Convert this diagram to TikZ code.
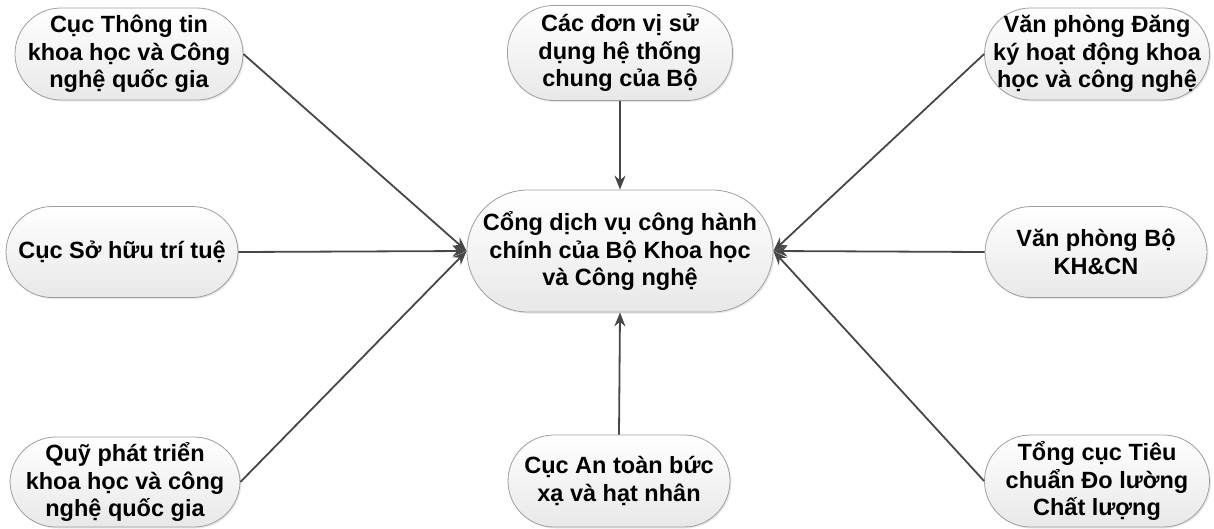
\documentclass[tikz,border=0pt]{standalone}
\usepackage{fontspec}
\setmainfont{Liberation Sans}
\usetikzlibrary{arrows.meta,shadows}
\begin{document}
\begin{tikzpicture}[x=1pt,y=-1pt,
  box/.style={rectangle, rounded corners=46pt, draw=black!38, line width=0.8pt,
    top color=white, bottom color=black!9,
    drop shadow={opacity=0.18,shadow xshift=1.5pt,shadow yshift=-1.5pt},
    align=center, inner sep=0pt, text=black,
    font=\fontsize{23.5}{27.5}\selectfont\bfseries},
  arr/.style={draw=black!72, line width=1.8pt, -{Stealth[length=14pt,width=11pt]}}]
\useasboundingbox (0,0) rectangle (1214,528);
\node[box, minimum width=228pt, minimum height=92pt] (tl) at (129,54)
  {Cục Thông tin\\khoa học và Công\\nghệ quốc gia};
\node[box, minimum width=225pt, minimum height=95pt] (tc) at (620,53)
  {Các đơn vị sử\\dụng hệ thống\\chung của Bộ};
\node[box, minimum width=225pt, minimum height=92pt] (tr) at (1097,54)
  {Văn phòng Đăng\\ký hoạt động khoa\\học và công nghệ};
\node[box, minimum width=232pt, minimum height=91pt] (ml) at (122,252)
  {Cục Sở hữu trí tuệ};
\node[box, rounded corners=61pt, minimum width=306pt, minimum height=122pt] (c) at (620,251)
  {Cổng dịch vụ công hành\\chính của Bộ Khoa học\\và Công nghệ};
\node[box, minimum width=222pt, minimum height=91pt] (mr) at (1096,252)
  {Văn phòng Bộ\\KH\&CN};
\node[box, minimum width=230pt, minimum height=90pt] (bl) at (125,482)
  {Quỹ phát triển\\khoa học và công\\nghệ quốc gia};
\node[box, minimum width=222pt, minimum height=92pt] (bc) at (619,481)
  {Cục An toàn bức\\xạ và hạt nhân};
\node[box, minimum width=225pt, minimum height=92pt] (br) at (1097,481)
  {Tổng cục Tiêu\\chuẩn Đo lường\\Chất lượng};
\draw[arr] (tl.east) -- (c.west);
\draw[arr] (ml.east) -- (c.west);
\draw[arr] (bl.east) -- (c.west);
\draw[arr] (tr.west) -- (c.east);
\draw[arr] (mr.west) -- (c.east);
\draw[arr] (br.west) -- (c.east);
\draw[arr] (tc.south) -- (c.north);
\draw[arr] (bc.north) -- (c.south);
\end{tikzpicture}
\end{document}
